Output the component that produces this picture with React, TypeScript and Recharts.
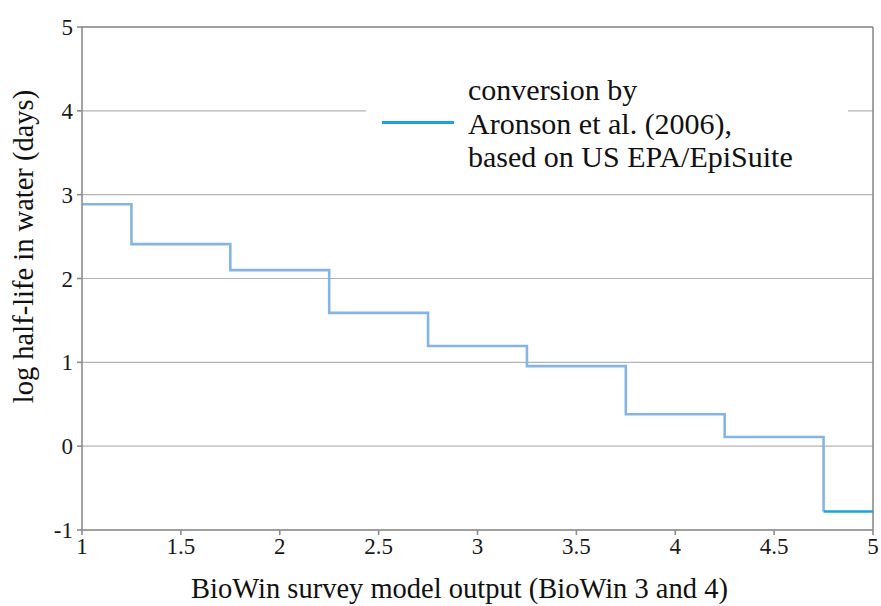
import React from 'react';
import { LineChart, XAxis, YAxis, CartesianGrid, Line, ReferenceLine } from 'recharts';

// step positions on the BioWin scale and the log half-life at each step
const stepX = [1, 1.25, 1.75, 2.25, 2.75, 3.25, 3.75, 4.25, 4.75];
const stepY = [2.885, 2.41, 2.1, 1.59, 1.195, 0.955, 0.38, 0.11, -0.78];
// last flat piece, drawn in the stronger blue
const tailX = [4.75, 5];
const tailY = [-0.78, -0.78];

const xTicks = [1, 1.5, 2, 2.5, 3, 3.5, 4, 4.5, 5];
const yTicks = [-1, 0, 1, 2, 3, 4, 5];
const legendLines = ['conversion by', 'Aronson et al. (2006),', 'based on US EPA/EpiSuite'];

const FONT = '"Liberation Serif", "Times New Roman", serif';

const stepData = stepX.map((x, i) => ({ x, y: stepY[i] }));
const tailData = tailX.map((x, i) => ({ x, y: tailY[i] }));

const XTick = (props: any) => {
  const { x, y, payload } = props;
  return (
    <text x={x} y={y} dy="0.74em" textAnchor="middle" fill="#1a1a1a" fontSize={23} fontFamily={FONT}>
      {payload.value}
    </text>
  );
};

const YTick = (props: any) => {
  const { x, y, payload } = props;
  return (
    <text x={x} y={y} dy="0.35em" textAnchor="end" fill="#1a1a1a" fontSize={23} fontFamily={FONT}>
      {payload.value}
    </text>
  );
};

const LegendBox = () => (
  <div
    style={{
      position: 'absolute',
      left: 366,
      top: 70,
      background: '#fff',
      width: 482,
      height: 116,
      fontFamily: FONT,
      fontSize: 30,
      color: '#111',
    }}
  >
    <div style={{ position: 'absolute', left: 16, top: 51, width: 72, height: 2.5, background: '#1aa3e0' }} />
    <div style={{ position: 'absolute', left: 102, top: 3, lineHeight: '33.5px', whiteSpace: 'nowrap' }}>
      {legendLines.map((t) => (
        <div key={t}>{t}</div>
      ))}
    </div>
  </div>
);

const App = () => {
  return (
    <div style={{ position: 'absolute', left: 0, top: 0, width: 881, height: 606, background: '#fff', fontFamily: FONT }}>
      <LineChart
        width={881}
        height={606}
        margin={{ top: 27, right: 8, left: 0, bottom: 0 }}
        style={{ fontFamily: FONT }}
      >
        <CartesianGrid vertical={false} stroke="#b4b4b4" strokeWidth={1.2} />
        <XAxis
          type="number"
          dataKey="x"
          domain={[1, 5]}
          ticks={xTicks}
          height={76}
          stroke="#8c8c8c"
          strokeWidth={1.6}
          tickSize={5}
          tickMargin={2}
          tick={<XTick />}
          label={{
            value: 'BioWin survey model output (BioWin 3 and 4)',
            position: 'insideBottom',
            offset: 8,
            dx: -18,
            fill: '#111',
            fontSize: 28.5,
            fontFamily: FONT,
          }}
        />
        <YAxis
          type="number"
          domain={[-1, 5]}
          ticks={yTicks}
          width={82}
          stroke="#8c8c8c"
          strokeWidth={1.6}
          tickSize={5}
          tickMargin={4}
          tick={<YTick />}
          label={{
            value: 'log half-life in water (days)',
            angle: -90,
            position: 'insideLeft',
            offset: 23,
            dy: -32,
            style: { textAnchor: 'middle' },
            fill: '#111',
            fontSize: 28.5,
            fontFamily: FONT,
          }}
        />
        <ReferenceLine y={5} stroke="#8c8c8c" strokeWidth={1.6} />
        <ReferenceLine x={5} stroke="#8c8c8c" strokeWidth={1.6} />
        <Line
          data={stepData}
          dataKey="y"
          type="stepAfter"
          stroke="#84b5e6"
          strokeWidth={2.6}
          dot={false}
          isAnimationActive={false}
        />
        <Line
          data={tailData}
          dataKey="y"
          type="linear"
          stroke="#19a3e0"
          strokeWidth={2.6}
          dot={false}
          isAnimationActive={false}
        />
      </LineChart>
      <LegendBox />
    </div>
  );
};

export default App;
